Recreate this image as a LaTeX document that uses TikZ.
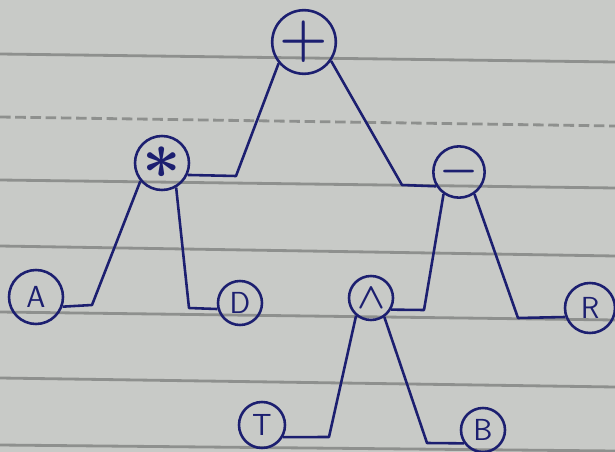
\documentclass[tikz,border=0pt]{standalone}
\usepackage{tikz}
\usetikzlibrary{arrows.meta,positioning,calc}
\usepackage{xcolor}
\usepackage{amsmath,amssymb}
\definecolor{paper}{HTML}{C8CAC7}
\definecolor{rule}{HTML}{8E908E}
\definecolor{ink}{HTML}{1C1F70}

\begin{document}
\begin{tikzpicture}[x=0.03cm,y=-0.03cm,
    op/.style={circle,draw=ink,line width=2.2pt,inner sep=0pt,minimum size=1.32cm,
      text=ink,font=\sffamily\fontsize{26}{26}\selectfont},
    edge/.style={ink,line width=2.2pt,line join=round},
    ruling/.style={rule,line width=2.4pt}]
  % Paper
  \fill[paper] (0,0) rectangle (615,452);
  \useasboundingbox (0,0) rectangle (615,452);
  \draw[ruling] (0,54) -- (615,62);
  \draw[ruling,dashed,dash pattern=on 9pt off 4pt] (0,117) -- (615,126);
  \draw[ruling] (0,180) -- (615,188);
  \draw[ruling] (0,246) -- (615,256);
  \draw[ruling] (0,312) -- (615,320);
  \draw[ruling] (0,378) -- (615,387);
  \draw[ruling] (0,445) -- (615,451);

  % Operators
  \node[op,minimum size=1.74cm] (plus) at (304,42) {\scalebox{1.9}{$\boldsymbol{+}$}};
  \node[op,minimum size=1.62cm] (mul) at (162,163) {\scalebox{2.3}{$\boldsymbol{\ast}$}};
  \node[op,minimum size=1.26cm] (minus) at (459,172) {\scalebox{1.5}{$\boldsymbol{-}$}};
  \node[op] (hat) at (371,298) {\scalebox{1.25}{$\boldsymbol{\wedge}$}};

  % Operands
  \node[op,minimum size=1.62cm] (A) at (36,297) {A};
  \node[op] (D) at (240,303) {D};
  \node[op,minimum size=1.5cm] (R) at (590,308) {R};
  \node[op,minimum size=1.38cm] (T) at (262,425) {T};
  \node[op] (B) at (483,430) {B};

  % Knees of the branches
  \coordinate (k1) at (236,176);
  \coordinate (k2) at (402,185);
  \coordinate (k3) at (92,305);
  \coordinate (k4) at (189,308);
  \coordinate (k5) at (424,310);
  \coordinate (k6) at (518,318);
  \coordinate (k7) at (329,437);
  \coordinate (k8) at (427,443);

  % Branches
  \draw[edge] (plus.220) -- (k1) -- (mul.-25);
  \draw[edge] (plus.-35) -- (k2) -- (minus.212);
  \draw[edge] (mul.220) -- (k3) -- (A.-20);
  \draw[edge] (mul.-60) -- (k4) -- (D.195);
  \draw[edge] (minus.235) -- (k5) -- (hat.-30);
  \draw[edge] (minus.-55) -- (k6) -- (R.200);
  \draw[edge] (hat.230) -- (k7) -- (T.-30);
  \draw[edge] (hat.-55) -- (k8) -- (B.215);
\end{tikzpicture}
\end{document}
